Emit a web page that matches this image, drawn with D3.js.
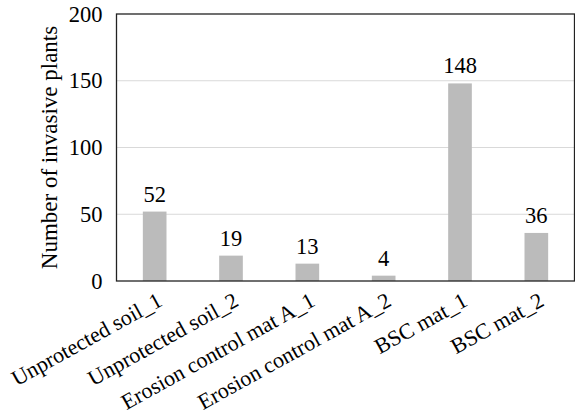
<!DOCTYPE html>
<html>
<head>
<meta charset="utf-8">
<script src="https://cdn.jsdelivr.net/npm/d3@7/dist/d3.min.js"></script>
<style>
  html, body { margin: 0; padding: 0; background: #fff; }
  svg { display: block; }
  svg text { font-family: "Liberation Serif", "Times New Roman", Times, serif !important; fill: #000; }
</style>
</head>
<body>
<svg id="chart" width="575" height="420"></svg>
<script>
// Invasive plant counts per treatment plot
const categories = ["Unprotected soil_1", "Unprotected soil_2", "Erosion control mat A_1",
                    "Erosion control mat A_2", "BSC mat_1", "BSC mat_2"];
const counts = [52, 19, 13, 4, 148, 36];
const yTicks = [0, 50, 100, 150, 200];
const yTitle = "Number of invasive plants";

const svg = d3.select("#chart");
const margin = { left: 116.5, right: 0.5, top: 14, bottom: 139 };
const W = 575, H = 420;
const FS = 22.5;

const x = d3.scaleBand()
  .domain(categories)
  .range([margin.left, W - margin.right])
  .paddingInner(0.69)
  .paddingOuter(0.345);

const y = d3.scaleLinear()
  .domain([0, 200])
  .range([H - margin.bottom, margin.top]);

// horizontal gridlines
svg.append("g")
  .selectAll("line")
  .data(yTicks.filter(d => d > 0 && d < 200))
  .join("line")
  .attr("x1", margin.left).attr("x2", W - margin.right)
  .attr("y1", d => y(d)).attr("y2", d => y(d))
  .attr("stroke", "#d9d9d9").attr("stroke-width", 1);

// bars
svg.append("g")
  .selectAll("rect")
  .data(counts)
  .join("rect")
  .attr("x", (d, i) => x(categories[i]))
  .attr("width", x.bandwidth())
  .attr("y", d => y(d))
  .attr("height", d => y(0) - y(d))
  .attr("fill", "#bbbbbb");

// value labels
svg.append("g")
  .selectAll("text")
  .data(counts)
  .join("text")
  .attr("x", (d, i) => x(categories[i]) + x.bandwidth() / 2)
  .attr("y", d => y(d) - 10)
  .attr("text-anchor", "middle")
  .style("font-size", FS + "px")
  .text(d => d);

// frame
svg.append("rect")
  .attr("x", margin.left).attr("y", margin.top)
  .attr("width", W - margin.right - margin.left)
  .attr("height", y(0) - margin.top)
  .attr("fill", "none").attr("stroke", "#222").attr("stroke-width", 1.3);

// y axis
const yAxis = svg.append("g")
  .attr("transform", `translate(${margin.left},0)`)
  .call(d3.axisLeft(y).tickValues(yTicks).tickSize(0).tickPadding(14));
yAxis.select(".domain").remove();
yAxis.selectAll("text").style("font-size", FS + "px");

// x axis labels, rotated
const xAxis = svg.append("g")
  .attr("transform", `translate(0,${y(0)})`)
  .call(d3.axisBottom(x).tickSize(0).tickPadding(0));
xAxis.select(".domain").remove();
xAxis.selectAll("text")
  .style("font-size", "22px")
  .attr("text-anchor", "end")
  .attr("dy", 0)
  .attr("y", 0)
  .attr("transform", "translate(9,24) rotate(-29)");

// y axis title
svg.append("text")
  .attr("transform", `translate(57,${(margin.top + y(0)) / 2}) rotate(-90)`)
  .attr("text-anchor", "middle")
  .style("font-size", "23px")
  .text(yTitle);
</script>
</body>
</html>
